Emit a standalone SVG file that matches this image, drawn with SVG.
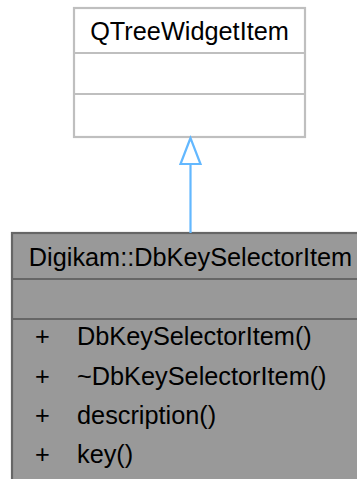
<svg xmlns="http://www.w3.org/2000/svg" width="357" height="479" viewBox="0 0 357 479">
<style>
text{font-family:"Liberation Sans",Arial,sans-serif;font-size:25.3px;fill:#000}
.base rect,.base line{stroke:#bfbfbf;stroke-width:2.2}
.cls rect,.cls line{stroke:#666666;stroke-width:2.2}
.edge{stroke:#63b8ff;stroke-width:2.2;fill:none}
</style>
<rect width="357" height="479" fill="#ffffff"/>
<g id="node-QTreeWidgetItem" class="base">
<rect x="74" y="8" width="231" height="129" fill="#ffffff"/>
<line x1="74" y1="53" x2="305" y2="53"/>
<line x1="74" y1="94" x2="305" y2="94"/>
<text x="189.5" y="40" text-anchor="middle">QTreeWidgetItem</text>
</g>
<g id="node-DbKeySelectorItem" class="cls">
<rect x="12" y="233" width="358" height="250" fill="#999999"/>
<line x1="12" y1="279" x2="370" y2="279"/>
<line x1="12" y1="319" x2="370" y2="319"/>
<text x="190.5" y="266" text-anchor="middle">Digikam::DbKeySelectorItem</text>
<text x="35" y="345">+</text><text x="77" y="345">DbKeySelectorItem()</text>
<text x="35" y="384.5">+</text><text x="77" y="384.5">~DbKeySelectorItem()</text>
<text x="35" y="424">+</text><text x="77" y="424">description()</text>
<text x="35" y="463">+</text><text x="77" y="463">key()</text>
</g>
<g id="connectors">
<line class="edge" x1="190.5" y1="233" x2="190.5" y2="164"/>
<polygon class="edge" points="190.5,138 180.5,164 200.5,164"/>
</g>
</svg>
